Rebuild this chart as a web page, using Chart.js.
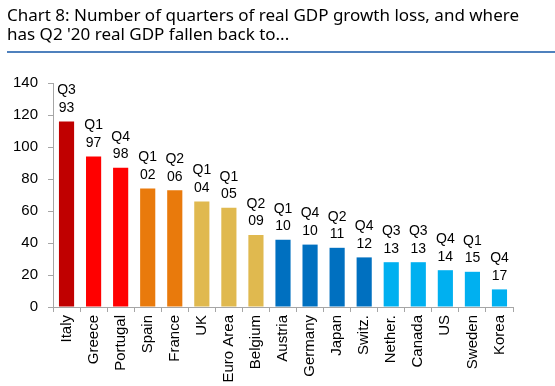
<!DOCTYPE html>
<html>
<head>
<meta charset="utf-8">
<script src="https://cdn.jsdelivr.net/npm/chart.js@4"></script>
<style>
  body { margin: 0; background: #fff; }
  #wrap { position: relative; width: 555px; height: 386px; }
  #title {
    position: absolute; left: 7px; top: 5px; width: 548px;
    font-family: "Noto Sans", sans-serif; font-size: 17px; line-height: 19px;
    color: #000; padding-bottom: 8px; border-bottom: 2px solid #4F81BD;
  }
  canvas { position: absolute; left: 0; top: 0; }
</style>
</head>
<body>
<div id="wrap">
  <canvas id="gdpChart" width="555" height="386"></canvas>
  <div id="title">Chart 8: Number of quarters of real GDP growth loss, and where<br>has Q2 '20 real GDP fallen back to...</div>
</div>
<script>
const countries = ['Italy', 'Greece', 'Portugal', 'Spain', 'France', 'UK', 'Euro Area', 'Belgium',
  'Austria', 'Germany', 'Japan', 'Switz.', 'Nether.', 'Canada', 'US', 'Sweden', 'Korea'];
const quartersLost = [116, 94, 87, 74, 73, 66, 62, 45, 42, 39, 37, 31, 28, 28, 23, 22, 11];
const backToQuarter = ['Q3', 'Q1', 'Q4', 'Q1', 'Q2', 'Q1', 'Q1', 'Q2', 'Q1', 'Q4', 'Q2', 'Q4', 'Q3', 'Q3', 'Q4', 'Q1', 'Q4'];
const backToYear = ['93', '97', '98', '02', '06', '04', '05', '09', '10', '10', '11', '12', '13', '13', '14', '15', '17'];
const barColors = ['#C00000', '#FF0000', '#FF0000', '#E97A0C', '#E97A0C', '#E0B94F', '#E0B94F', '#E0B94F',
  '#0070C0', '#0070C0', '#0070C0', '#0070C0', '#00B0F0', '#00B0F0', '#00B0F0', '#00B0F0', '#00B0F0'];

const labelFont = '14px Arial, "Liberation Sans", sans-serif';
const tickFamily = 'Arial, "Liberation Sans", sans-serif';

const topLabels = {
  id: 'topLabels',
  afterDatasetsDraw(chart) {
    const ctx = chart.ctx;
    const meta = chart.getDatasetMeta(0);
    ctx.save();
    ctx.font = labelFont;
    ctx.fillStyle = '#000';
    ctx.textAlign = 'center';
    ctx.textBaseline = 'middle';
    meta.data.forEach((bar, i) => {
      ctx.fillText(backToYear[i], bar.x, bar.y - 13.5);
      ctx.fillText(backToQuarter[i], bar.x, bar.y - 31);
    });
    ctx.restore();
  }
};

const axisColor = '#A6A6A6';

new Chart(document.getElementById('gdpChart').getContext('2d'), {
  type: 'bar',
  data: {
    labels: countries,
    datasets: [{
      data: quartersLost,
      backgroundColor: barColors,
      borderWidth: 0,
      barPercentage: 0.56,
      categoryPercentage: 1
    }]
  },
  options: {
    responsive: false,
    animation: false,
    layout: { padding: { top: 83, right: 42, left: 0, bottom: 0 } },
    plugins: { legend: { display: false }, tooltip: { enabled: false } },
    scales: {
      x: {
        afterFit: s => { s.height = 79; },
        border: { color: axisColor, width: 1 },
        grid: { display: true, drawOnChartArea: false, drawTicks: true, tickLength: 5, color: axisColor, offset: true },
        ticks: {
          minRotation: 90, maxRotation: 90, autoSkip: false, padding: 3,
          color: '#000', font: { family: tickFamily, size: 15 }
        }
      },
      y: {
        min: 0, max: 140,
        afterFit: s => { s.width = 53; },
        border: { color: axisColor, width: 1 },
        grid: { display: true, drawOnChartArea: false, drawTicks: true, tickLength: 5, color: axisColor },
        ticks: {
          stepSize: 20, padding: 10,
          color: '#000', font: { family: tickFamily, size: 15 }
        }
      }
    }
  },
  plugins: [topLabels]
});
</script>
</body>
</html>
